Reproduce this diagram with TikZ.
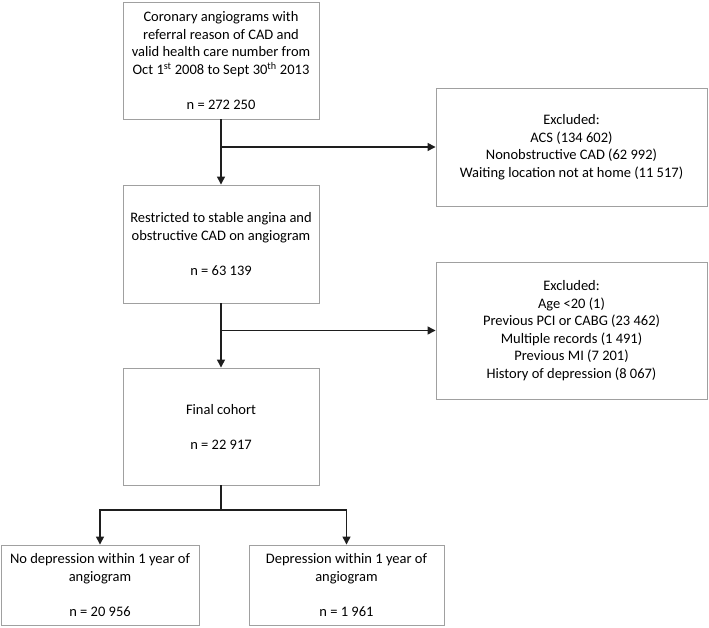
\documentclass[tikz,border=0pt]{standalone}
\usepackage{fontspec}
\setmainfont{Carlito}
\usetikzlibrary{arrows.meta}
\definecolor{boxgray}{RGB}{160,160,160}
\definecolor{linegray}{RGB}{30,30,30}
\begin{document}
\begin{tikzpicture}[x=1pt,y=-1pt,
  box/.style={draw=boxgray,line width=0.9pt,align=center,inner sep=0pt,
    font=\fontsize{14.5}{17.5}\selectfont},
  arr/.style={draw=linegray,line width=1.3pt,-{Triangle[length=8pt,width=8pt]}},
  conn/.style={draw=linegray,line width=1.3pt}]
\useasboundingbox (0,0) rectangle (709,628);
\node[box,minimum width=196pt,minimum height=117pt] (b1) at (221,60.5)
  {Coronary angiograms with\\referral reason of CAD and\\valid health care number from\\Oct 1\textsuperscript{st} 2008 to Sept 30\textsuperscript{th} 2013\\[17.5pt]n = 272 250};
\node[box,minimum width=271pt,minimum height=118pt] (e1) at (571.5,147)
  {Excluded:\\ACS (134 602)\\Nonobstructive CAD (62 992)\\Waiting location not at home (11 517)};
\node[box,minimum width=196pt,minimum height=118pt] (b3) at (221,244)
  {Restricted to stable angina and\\obstructive CAD on angiogram\\[17.5pt]n = 63 139};
\node[box,minimum width=271pt,minimum height=137pt] (e2) at (571.5,330.5)
  {Excluded:\\Age <20 (1)\\Previous PCI or CABG (23 462)\\Multiple records (1 491)\\Previous MI (7 201)\\History of depression (8 067)};
\node[box,minimum width=196pt,minimum height=117pt] (b4) at (221,426.5)
  {Final cohort\\[17.5pt]n = 22 917};
\node[box,minimum width=198pt,minimum height=80pt] (b6) at (100,585)
  {No depression within 1 year of\\angiogram\\[17.5pt]n = 20 956};
\node[box,minimum width=195pt,minimum height=80pt] (b7) at (346.5,585)
  {Depression within 1 year of\\angiogram\\[17.5pt]n = 1 961};
\coordinate (j1) at (b1.south |- e1.west);
\coordinate (j2) at (b3.south |- e2.west);
\coordinate (s) at (221,510);
\draw[arr] (b1.south) -- (b3.north);
\draw[arr] (j1) -- (e1.west);
\draw[arr] (b3.south) -- (b4.north);
\draw[arr] (j2) -- (e2.west);
\draw[conn] (b4.south) -- (s);
\draw[arr] (s) -| (b6.north);
\draw[arr] (s) -| (b7.north);
\end{tikzpicture}
\end{document}
